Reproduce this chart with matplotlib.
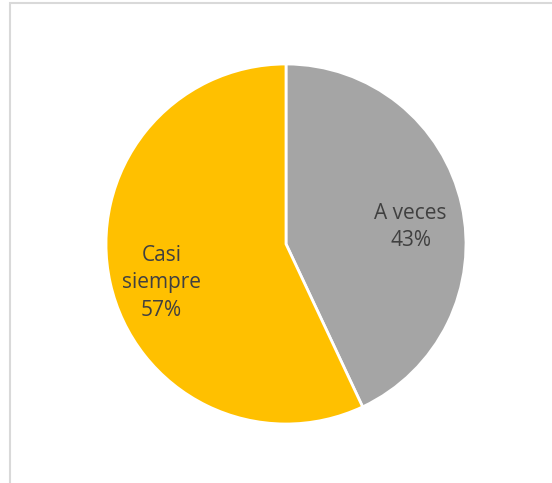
import matplotlib.pyplot as plt
from matplotlib.patches import Rectangle

# datos del gráfico
categorias = ["A veces", "Casi siempre"]
etiquetas = ["A veces\n43%", "Casi\nsiempre\n57%"]
valores = [43, 57]
colores = ["#a5a5a5", "#ffc000"]

fig = plt.figure(figsize=(5.52, 4.83), dpi=100)

# marco gris claro del área del gráfico
fig.patches.append(Rectangle((10 / 552, -0.1), 1.2, (480 / 483) + 0.1,
                             transform=fig.transFigure, fill=False,
                             edgecolor="#d9d9d9", linewidth=1.5))

ax = fig.add_axes([(286 - 180) / 552, (483 - 244 - 180) / 483, 360 / 552, 360 / 483])
wedges, textos = ax.pie(valores, labels=etiquetas, colors=colores, startangle=90,
                        counterclock=False, labeldistance=0.71,
                        wedgeprops=dict(edgecolor="white", linewidth=2))
for t in textos:
    t.set_horizontalalignment("center")
    t.set_verticalalignment("center")
    t.set_fontsize(15)
    t.set_color("#404040")
    t.set_family(["Open Sans", "DejaVu Sans"])
    t.set_linespacing(1.4)
    x, y = t.get_position()
    t.set_position((x, y - 0.06))  # Excel deja las etiquetas un poco más abajo
ax.set_xlim(-1.0, 1.0)
ax.set_ylim(-1.0, 1.0)

plt.savefig("out.png", dpi=100)
